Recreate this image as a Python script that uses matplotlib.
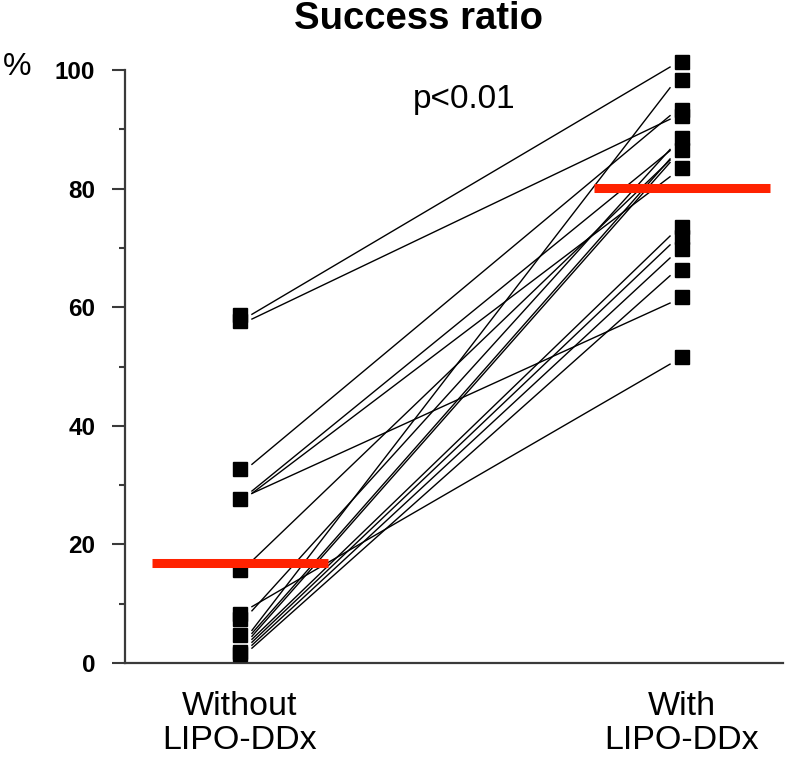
import matplotlib
matplotlib.use("Agg")
import matplotlib.pyplot as plt
from matplotlib.ticker import MultipleLocator

plt.rcParams['font.family'] = ['Liberation Sans', 'DejaVu Sans']

# group labels
groups = ["Without\nLIPO-DDx", "With\nLIPO-DDx"]

# individual squares (success ratio, %)
without_pts = [58.7, 57.7, 32.7, 27.7, 15.7, 8.3, 7.5, 4.7, 1.9, 1.5]
with_pts = [101.3, 98.3, 93.3, 92.3, 88.5, 86.5, 83.5, 73.5, 71.8,
            69.8, 66.3, 61.7, 51.6]

# paired lines (before -> after)
pair_without = [58.8, 58.0, 33.5, 29.0, 28.6, 28.6, 17.2, 9.5, 8.8,
                5.5, 5.0, 4.5, 4.0, 3.5, 3.0, 2.5]
pair_with = [100.5, 91.7, 92.3, 86.4, 82.0, 60.7, 84.8, 50.4, 86.6,
             97.0, 85.0, 84.4, 72.0, 70.5, 68.3, 65.3]

# group means
means = [16.9, 80.1]

fig = plt.figure(figsize=(7.87, 7.58), dpi=100)
ax = fig.add_axes([125 / 787, 95 / 758, 658 / 787, 593 / 758])

gap = 0.027
for a, b in zip(pair_without, pair_with):
    ax.plot([0 + gap, 1 - gap], [a, b], color="black", lw=1.0, zorder=2,
            clip_on=False)

ax.plot([0] * len(without_pts), without_pts, "s", color="black",
        ms=10.5, zorder=3, clip_on=False)
ax.plot([1] * len(with_pts), with_pts, "s", color="black",
        ms=10.5, zorder=3, clip_on=False)

for i, m in enumerate(means):
    ax.hlines(m, i - 0.2, i + 0.2, color="#ff2200", lw=6.5, zorder=4)

ax.set_xlim(-0.2602, 1.2286)
ax.set_ylim(0, 100)

ax.spines["top"].set_visible(False)
ax.spines["right"].set_visible(False)
for s in ["left", "bottom"]:
    ax.spines[s].set_color("#3a3a3a")
    ax.spines[s].set_linewidth(1.6)

ax.yaxis.set_major_locator(MultipleLocator(20))
ax.yaxis.set_minor_locator(MultipleLocator(10))
ax.tick_params(axis="y", which="major", length=9.5, width=1.5,
               color="#3a3a3a", pad=12, labelsize=17.5)
ax.tick_params(axis="y", which="minor", length=4.5, width=1.5,
               color="#3a3a3a")
for lbl in ax.get_yticklabels():
    lbl.set_fontweight("bold")

ax.set_xticks([0, 1])
ax.set_xticklabels(groups, fontsize=24.5, linespacing=1.15)
ax.tick_params(axis="x", length=0, pad=20)

fig.text(419 / 787, (758 - 29) / 758, "Success ratio", ha="center",
         va="baseline", fontsize=27.5, fontweight="bold")
fig.text(464 / 787, (758 - 108) / 758, "p<0.01", ha="center",
         va="baseline", fontsize=24)
fig.text(17 / 787, (758 - 67) / 758, "%", ha="center", va="center",
         fontsize=23)

fig.savefig("out.png", dpi=100)
